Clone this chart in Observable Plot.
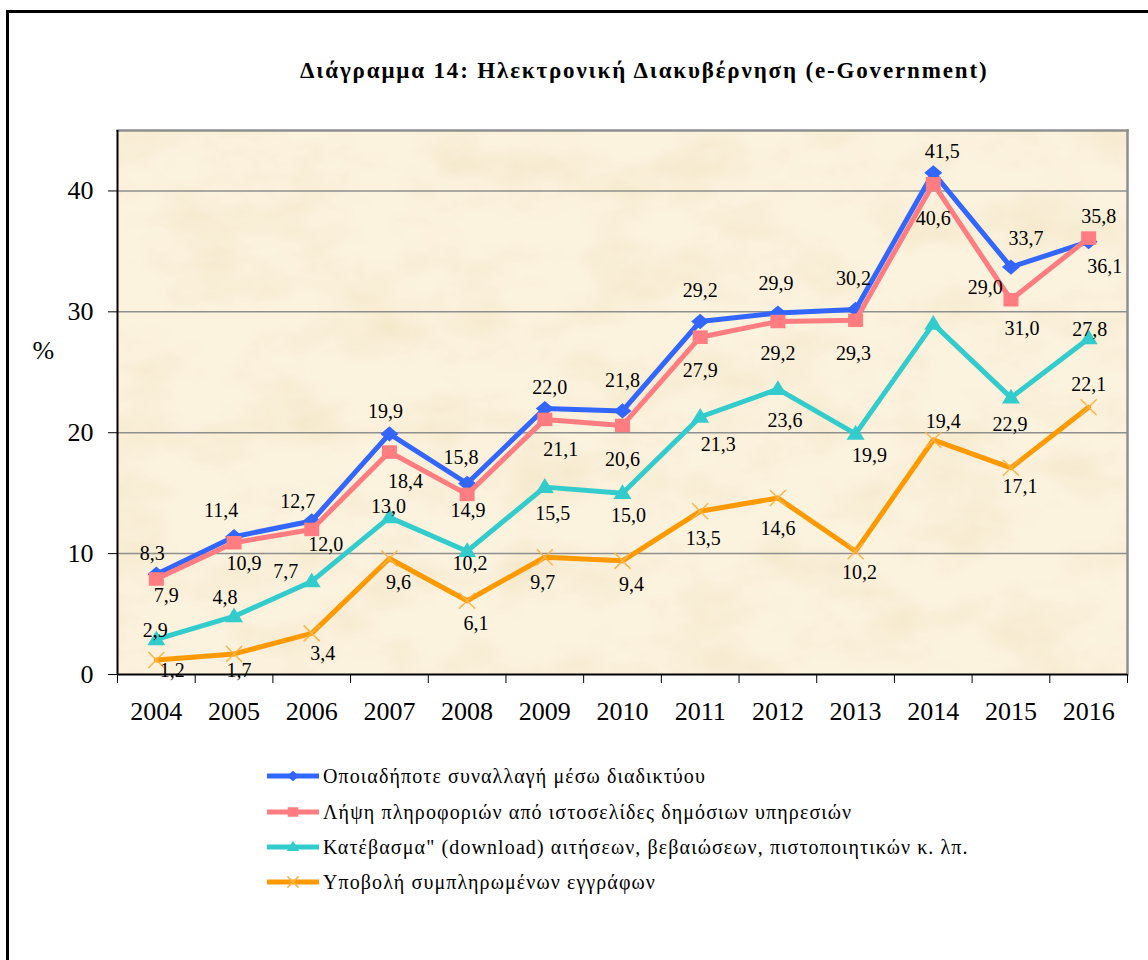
<!DOCTYPE html>
<html>
<head>
<meta charset="utf-8">
<script src="https://cdn.jsdelivr.net/npm/d3@7"></script>
<script src="https://cdn.jsdelivr.net/npm/@observablehq/plot@0.6"></script>
<style>
  html, body { margin: 0; padding: 0; background: #fff; }
  #page { position: relative; width: 1148px; height: 960px; overflow: hidden; }
  #border { position: absolute; left: 6px; top: 10px; width: 1160px; height: 980px; border-left: 3px solid #000; border-top: 3px solid #000; }
  #head { position: absolute; left: 0; top: 0; }
  #chart { position: absolute; left: 0; top: 100px; }
  #legend { position: absolute; left: 0; top: 740px; }
</style>
</head>
<body>
<div id="page">
  <div id="border"></div>
  <div id="head"></div>
  <div id="chart"></div>
  <div id="legend"></div>
</div>
<script>
// ---- data ----
const titleText = "Διάγραμμα 14: Ηλεκτρονική Διακυβέρνηση (e-Government)";
const yLabel = "%";
const years = [2004, 2005, 2006, 2007, 2008, 2009, 2010, 2011, 2012, 2013, 2014, 2015, 2016];
const seriesNames = [
  "Οποιαδήποτε συναλλαγή μέσω διαδικτύου",
  "Λήψη πληροφοριών από ιστοσελίδες δημόσιων υπηρεσιών",
  "Κατέβασμα\" (download) αιτήσεων, βεβαιώσεων, πιστοποιητικών κ. λπ.",
  "Υποβολή συμπληρωμένων εγγράφων"
];
const anyTransaction = [8.3, 11.4, 12.7, 19.9, 15.8, 22.0, 21.8, 29.2, 29.9, 30.2, 41.5, 33.7, 35.8];
const obtainInfo     = [7.9, 10.9, 12.0, 18.4, 14.9, 21.1, 20.6, 27.9, 29.2, 29.3, 40.6, 31.0, 36.1];
const downloadForms  = [2.9, 4.8, 7.7, 13.0, 10.2, 15.5, 15.0, 21.3, 23.6, 19.9, 29.0, 22.9, 27.8];
const submitForms    = [1.2, 1.7, 3.4, 9.6, 6.1, 9.7, 9.4, 13.5, 14.6, 10.2, 19.4, 17.1, 22.1];
const yTicks = [0, 10, 20, 30, 40];

// ---- styling / layout ----
const FONT = "Liberation Serif";
const colors = ["#3366FF", "#FF7C80", "#33CCCC", "#FF9900"];
const markColors = ["#3366FF", "#FF7C80", "#33CCCC", "#FFB347"];

// label pixel offsets per point (layout only)
const labelOffsets = [
  [[-4,-21],[-13,-26],[-14,-19],[-4,-22],[-6,-26],[5,-21],[0,-30],[0,-31],[-2,-29],[-2,-31],[9,-21],[15,-29],[10,-25]],
  [[10,17],[10,21],[14,15],[16,30],[1,16],[16,30],[0,34],[0,33],[0,32],[-2,33],[0,35],[11,29],[16,29]],
  [[-1,-9],[-9,-19],[-26,-10],[-1,-11],[3,12],[8,26],[6,22],[18,28],[7,31],[14,22],[52,-36],[-1,27],[1,-9]],
  [[16,11],[5,17],[11,20],[9,24],[9,23],[-2,25],[9,24],[3,27],[0,31],[4,21],[10,-18],[9,19],[0,-23]]
];

const diamond = { draw(ctx, size) { const r = Math.sqrt(size / Math.PI); ctx.moveTo(0, -r*0.85); ctx.lineTo(r, 0); ctx.lineTo(0, r*0.85); ctx.lineTo(-r, 0); ctx.closePath(); } };
const square = { draw(ctx, size) { const r = Math.sqrt(size / Math.PI); ctx.rect(-r, -r*0.9, 2*r, 1.8*r); } };
const triangle = { draw(ctx, size) { const r = Math.sqrt(size / Math.PI); ctx.moveTo(0, -r); ctx.lineTo(r, r*0.65); ctx.lineTo(-r, r*0.65); ctx.closePath(); } };
const cross = { draw(ctx, size) { const r = Math.sqrt(size / Math.PI); ctx.moveTo(-r, -r); ctx.lineTo(r, r); ctx.moveTo(r, -r); ctx.lineTo(-r, r); } };
const symbols = [diamond, square, triangle, cross];
const symbolR = [9, 7.5, 9, 8];

const allSeries = [anyTransaction, obtainInfo, downloadForms, submitForms];
const fmt = v => v.toFixed(1).replace(".", ",");

// ---- title (above the plot) ----
const head = d3.create("svg").attr("width", 1148).attr("height", 100);
head.append("text").attr("x", 300).attr("y", 78).attr("font-family", FONT).attr("font-size", 23)
  .attr("font-weight", "bold").attr("letter-spacing", 1.85).attr("fill", "#000").text(titleText);
document.getElementById("head").appendChild(head.node());

// ---- plot ----
const boundaries = [...years.map(y => y - 0.5), years[years.length - 1] + 0.5];

const marks = [
  Plot.frame({fill: "#FCF3DF", stroke: "none", className: "bgframe"}),
  Plot.gridY(yTicks.filter(d => d > 0), {stroke: "#8f8f8f", strokeOpacity: 1, strokeWidth: 1.5}),
  Plot.frame({anchor: "top", stroke: "#8f8f8f", strokeWidth: 2.5}),
  Plot.frame({anchor: "right", stroke: "#8f8f8f", strokeWidth: 2.5}),
  Plot.ruleX([boundaries[0]], {stroke: "#000", strokeWidth: 2}),
  Plot.ruleY([0], {stroke: "#000", strokeWidth: 2}),
  Plot.axisY({ticks: yTicks, tickSize: 9, tickPadding: 15, fontSize: 26, label: null, tickFormat: d => String(d)}),
  Plot.axisX({ticks: years, tickSize: 0, tickPadding: 27, fontSize: 26, label: null, tickFormat: d => String(d)}),
  Plot.axisX({ticks: boundaries, tickSize: 9, tickFormat: () => "", label: null}),
  Plot.text([yLabel], {frameAnchor: "left", dx: -85, dy: -52, fontSize: 26, textAnchor: "start"})
];

allSeries.forEach((vals, s) => {
  const data = years.map((y, i) => ({year: y, value: vals[i]}));
  marks.push(Plot.line(data, {x: "year", y: "value", stroke: colors[s], strokeWidth: 5, strokeLinejoin: "round"}));
  if (s === 3) {
    marks.push(Plot.dot(data, {x: "year", y: "value", symbol: symbols[s], r: symbolR[s], stroke: markColors[s], strokeWidth: 1.5, fill: "none"}));
  } else {
    marks.push(Plot.dot(data, {x: "year", y: "value", symbol: symbols[s], r: symbolR[s], fill: markColors[s], stroke: "none"}));
  }
});

allSeries.forEach((vals, s) => {
  years.forEach((y, i) => {
    const [dx, dy] = labelOffsets[s][i];
    marks.push(Plot.text([{year: y, value: vals[i]}], {x: "year", y: "value", text: d => fmt(d.value), dx, dy, fontSize: 20, fill: "#000"}));
  });
});

const chart = Plot.plot({
  width: 1148,
  height: 640,
  marginLeft: 117,
  marginRight: 21,
  marginTop: 30,
  marginBottom: 66,
  x: {type: "linear", domain: [boundaries[0], boundaries[boundaries.length - 1]]},
  y: {domain: [0, 45]},
  style: {fontFamily: FONT, background: "transparent", color: "#000", overflow: "visible"},
  marks
});

// parchment texture on the plot background
const svgSel = d3.select(chart);
const defs = svgSel.insert("defs", ":first-child");
const f = defs.append("filter").attr("id", "parchment").attr("x", 0).attr("y", 0).attr("width", "100%").attr("height", "100%");
f.append("feTurbulence").attr("type", "fractalNoise").attr("baseFrequency", "0.012 0.02").attr("numOctaves", 4).attr("seed", 7).attr("result", "noise");
f.append("feColorMatrix").attr("in", "noise").attr("type", "matrix")
  .attr("values", "0 0 0 0 0.86  0 0 0 0 0.74  0 0 0 0 0.48  0 0 0 1.0 -0.40").attr("result", "tint");
f.append("feComposite").attr("in", "tint").attr("in2", "SourceGraphic").attr("operator", "in").attr("result", "tintc");
const merge = f.append("feMerge");
merge.append("feMergeNode").attr("in", "SourceGraphic");
merge.append("feMergeNode").attr("in", "tintc");
svgSel.select(".bgframe").attr("filter", "url(#parchment)");
svgSel.select("g.bgframe").selectAll("rect").attr("filter", "url(#parchment)");

document.getElementById("chart").appendChild(chart);

// ---- legend (below the plot) ----
const legendRows = [36, 72, 107, 142]; // row centres relative to legend top (740)
const leg = d3.create("svg").attr("width", 1148).attr("height", 180);
seriesNames.forEach((name, s) => {
  const cy = legendRows[s];
  const g = leg.append("g").attr("transform", `translate(267,${cy})`);
  g.append("line").attr("x1", 0).attr("x2", 52).attr("stroke", colors[s]).attr("stroke-width", 5);
  const path = d3.path();
  const k = 0.7;
  symbols[s].draw(path, Math.PI * (symbolR[s]*k) * (symbolR[s]*k));
  const p = g.append("path").attr("d", path.toString()).attr("transform", "translate(26,0)");
  if (s === 3) p.attr("fill", "none").attr("stroke", markColors[s]).attr("stroke-width", 1.5);
  else p.attr("fill", markColors[s]);
  g.append("text").attr("x", 56).attr("y", 0).attr("dy", "0.35em").attr("font-family", FONT)
    .attr("font-size", 20).attr("letter-spacing", 1.1).attr("fill", "#000").text(name);
});
document.getElementById("legend").appendChild(leg.node());
</script>
</body>
</html>
